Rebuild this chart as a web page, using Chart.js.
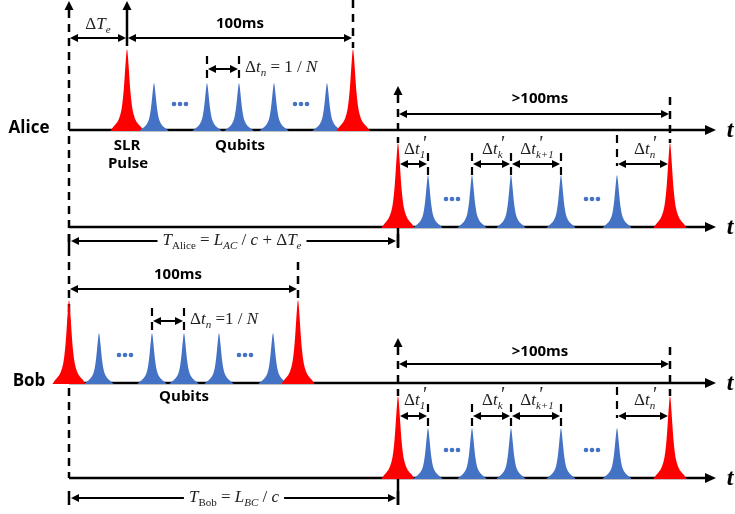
<!DOCTYPE html>
<html>
<head>
<meta charset="utf-8">
<script src="https://cdn.jsdelivr.net/npm/chart.js@4.4.0/dist/chart.umd.min.js"></script>
<style>
  html, body { margin: 0; padding: 0; background: #fff; }
  canvas { display: block; }
</style>
</head>
<body>
<canvas id="diagram" width="735" height="514"></canvas>
<script>
// timelines (baseline position on the vertical scale) and their names
const timelineNames = ["Alice", "", "Bob", ""];
const timelineY = [130, 227, 383, 478];

// pulse times along each timeline; first and last are SLR pulses, the rest qubits
const pulseKind = ["SLR", "qubit", "qubit", "qubit", "qubit", "qubit", "SLR"];
const aliceSentT = [127, 154, 207, 239, 274, 327, 353];
const aliceRecvT = [398, 428, 472, 511, 561, 617, 670];
const bobSentT = [69, 99, 152, 184, 219, 273, 298];
const bobRecvT = [398, 428, 472, 511, 561, 617, 670];
const slrHeight = [81, 84, 83, 82];
const qubitHeight = [47, 52, 50, 50];

// "..." markers between qubits
const dotsT = [[180, 301], [452, 592], [125, 245], [452, 592]];

const RED = "#ff0000";
const BLUE = "#4472c4";
const SERIF = '"Liberation Serif", "DejaVu Serif", serif';
const SANS = '"Open Sans", "Noto Sans", sans-serif';

// pulse outline (one flank), in units of half-width-at-half-max and of peak height
const FLANK = [[-5.2, 0], [-4.4, 0.05], [-3, 0.1], [-2, 0.2], [-1.5, 0.31], [-1, 0.5], [-0.5, 0.8], [-0.15, 0.98], [0, 1]];

function seg(ctx, x1, y1, x2, y2, w) {
  ctx.save();
  ctx.lineWidth = w || 2.5;
  ctx.strokeStyle = "#000";
  ctx.beginPath();
  ctx.moveTo(x1, y1);
  ctx.lineTo(x2, y2);
  ctx.stroke();
  ctx.restore();
}

function dashV(ctx, x, y1, y2, w) {
  ctx.save();
  ctx.lineWidth = w || 2.5;
  ctx.strokeStyle = "#000";
  ctx.setLineDash([8, 6]);
  ctx.beginPath();
  ctx.moveTo(x, y1);
  ctx.lineTo(x, y2);
  ctx.stroke();
  ctx.restore();
}

// filled arrow head, tip at (x, y)
function head(ctx, x, y, dir, len, hw) {
  len = len || 8;
  hw = hw || 4;
  ctx.save();
  ctx.fillStyle = "#000";
  ctx.beginPath();
  ctx.moveTo(x, y);
  if (dir === "r") { ctx.lineTo(x - len, y - hw); ctx.lineTo(x - len, y + hw); }
  if (dir === "l") { ctx.lineTo(x + len, y - hw); ctx.lineTo(x + len, y + hw); }
  if (dir === "u") { ctx.lineTo(x - hw, y + len); ctx.lineTo(x + hw, y + len); }
  ctx.closePath();
  ctx.fill();
  ctx.restore();
}

function dblArrow(ctx, x1, x2, y) {
  seg(ctx, x1 + 4, y, x2 - 4, y, 2);
  head(ctx, x1, y, "l", 8, 4);
  head(ctx, x2, y, "r", 8, 4);
}

function pulse(ctx, cx, base, top, g, color) {
  const h = base - top;
  const pts = FLANK.map(([u, v]) => [cx + u * g, base - v * h]);
  const all = pts.concat(pts.slice(0, -1).reverse().map(([px, py]) => [2 * cx - px, py]));
  ctx.beginPath();
  ctx.moveTo(all[0][0], all[0][1]);
  for (let i = 1; i < all.length - 1; i++) {
    const mx = (all[i][0] + all[i + 1][0]) / 2;
    const my = (all[i][1] + all[i + 1][1]) / 2;
    ctx.quadraticCurveTo(all[i][0], all[i][1], mx, my);
  }
  ctx.lineTo(all[all.length - 1][0], all[all.length - 1][1]);
  ctx.closePath();
  ctx.fillStyle = color;
  ctx.fill();
}

// math-like text: parts with italic / sub / sup / stacked scripts
function rich(ctx, parts, x, y, align, size, bg) {
  size = size || 17;
  let cx = 0, prev = 0;
  const out = [];
  for (const p of parts) {
    const fs = p.z ? p.z : p.s ? Math.round(size * 0.64) : size;
    const font = (p.i ? "italic " : "") + fs + "px " + SERIF;
    ctx.font = font;
    const w = ctx.measureText(p.t).width;
    const x0 = (p.back ? prev : cx) + (p.dx || 0);
    prev = x0;
    const dy = p.s === "sub" ? size * 0.3 : p.s === "sup" ? -size * 0.3 : 0;
    out.push({ t: p.t, font, x: x0, dy });
    cx = Math.max(cx, x0 + w);
  }
  const left = align === "center" ? x - cx / 2 : x;
  ctx.save();
  if (bg) {
    ctx.fillStyle = "#fff";
    ctx.fillRect(left - 5, y - size * 0.6, cx + 10, size * 1.3);
  }
  ctx.fillStyle = "#222";
  ctx.textBaseline = "middle";
  ctx.textAlign = "left";
  for (const o of out) {
    ctx.font = o.font;
    ctx.fillText(o.t, left + o.x, y + o.dy);
  }
  ctx.restore();
}

function bold(ctx, text, x, y, size, align) {
  ctx.save();
  ctx.font = "bold " + size + "px " + SANS;
  ctx.fillStyle = "#000";
  ctx.textAlign = align || "center";
  ctx.textBaseline = "middle";
  ctx.fillText(text, x, y);
  ctx.restore();
}

const dtPrime = (sub) => [
  { t: "Δ" }, { t: "t", i: 1 },
  { t: sub, i: 1, s: "sub" }, { t: "'", i: 1, s: "sup", back: 1, z: 20, dx: 2 }
];

const diagram = {
  id: "diagram",
  afterDraw(chart) {
    const ctx = chart.ctx;
    const X = (v) => chart.scales.x.getPixelForValue(v);
    const Y = (v) => chart.scales.y.getPixelForValue(v);

    // time axes
    timelineY.forEach((ty, i) => {
      seg(ctx, X(69), Y(ty), X(708), Y(ty), 2.5);
      head(ctx, X(716), Y(ty), "r", 11, 5);
      ctx.save();
      ctx.font = "bold italic 24px " + SERIF;
      ctx.fillStyle = "#000";
      ctx.textBaseline = "middle";
      ctx.textAlign = "center";
      ctx.fillText("t", X(730), Y(ty) + 1);
      ctx.restore();
      if (timelineNames[i]) bold(ctx, timelineNames[i], X(29), Y(ty - 2), 17);
    });

    // reference verticals
    dashV(ctx, X(69), Y(10), Y(478));
    head(ctx, X(69), Y(1), "u", 9, 4.5);
    seg(ctx, X(127), Y(9), X(127), Y(46), 2.5);
    head(ctx, X(127), Y(1), "u", 9, 4.5);
    dashV(ctx, X(353), Y(0), Y(48));
    dashV(ctx, X(298), Y(262), Y(300));
    [[86, 143, 227, 247, 670, 97], [338, 396, 478, 505, 670, 347]].forEach(([tip, top, base, low, xr, rTop]) => {
      head(ctx, X(398), Y(tip), "u", 9, 4.5);
      dashV(ctx, X(398), Y(tip + 9), Y(top));
      seg(ctx, X(398), Y(base), X(398), Y(low), 2.5);
      dashV(ctx, X(xr), Y(rTop), Y(top));
    });

    // pulses
    [aliceSentT, aliceRecvT, bobSentT, bobRecvT].forEach((times, i) => {
      const base = timelineY[i];
      times.forEach((t, k) => {
        const slr = pulseKind[k] === "SLR";
        const top = base - (slr ? slrHeight[i] : qubitHeight[i]);
        pulse(ctx, X(t), Y(base) + 1, Y(top), slr ? 3.2 : 2.8, slr ? RED : BLUE);
      });
      dotsT[i].forEach((d) => {
        const dy = Y(base - (i === 0 ? 26 : 28));
        ctx.fillStyle = BLUE;
        for (const o of [-6, 0, 6]) {
          ctx.beginPath();
          ctx.arc(X(d) + o, dy, 2.3, 0, Math.PI * 2);
          ctx.fill();
        }
      });
    });

    // Alice sent annotations
    dblArrow(ctx, X(70), X(126), Y(38));
    dblArrow(ctx, X(128), X(352), Y(38));
    rich(ctx, [{ t: "Δ" }, { t: "T", i: 1 }, { t: "e", i: 1, s: "sub" }], X(98), Y(25), "center");
    bold(ctx, "100ms", X(240), Y(24), 15);
    dashV(ctx, X(207), Y(56), Y(84), 2.2);
    dashV(ctx, X(239), Y(56), Y(84), 2.2);
    dblArrow(ctx, X(208), X(238), Y(69));
    rich(ctx, [{ t: "Δ" }, { t: "t", i: 1 }, { t: "n", i: 1, s: "sub" }, { t: " = 1 / " }, { t: "N", i: 1 }], X(245), Y(68), "left");
    bold(ctx, "SLR", X(127), Y(146), 15);
    bold(ctx, "Pulse", X(128), Y(164), 15);
    bold(ctx, "Qubits", X(240), Y(146), 15);

    // Bob sent annotations
    dblArrow(ctx, X(70), X(297), Y(289));
    bold(ctx, "100ms", X(178), Y(275), 15);
    dashV(ctx, X(152), Y(308), Y(335), 2.2);
    dashV(ctx, X(184), Y(308), Y(335), 2.2);
    dblArrow(ctx, X(153), X(183), Y(321));
    rich(ctx, [{ t: "Δ" }, { t: "t", i: 1 }, { t: "n", i: 1, s: "sub" }, { t: " =1 / " }, { t: "N", i: 1 }], X(190), Y(320), "left");
    bold(ctx, "Qubits", X(184), Y(397), 15);

    // received timelines annotations
    [[114, 99, 164, 150, 153, 177, 135], [364, 352, 416, 401, 404, 430, 387]].forEach(([arrY, lblY, dY, dLbl, tk1, tk2, tkN]) => {
      dblArrow(ctx, X(399), X(669), Y(arrY));
      bold(ctx, ">100ms", X(540), Y(lblY), 15);
      [428, 472, 511, 561].forEach((t) => dashV(ctx, X(t), Y(tk1), Y(tk2), 2.2));
      dashV(ctx, X(617), Y(tkN), Y(dY + 2), 2.2);
      dblArrow(ctx, X(400), X(427), Y(dY));
      dblArrow(ctx, X(473), X(510), Y(dY));
      dblArrow(ctx, X(512), X(560), Y(dY));
      dblArrow(ctx, X(618), X(668), Y(dY));
      rich(ctx, dtPrime("1"), X(415), Y(dLbl), "center");
      rich(ctx, dtPrime("k"), X(493), Y(dLbl), "center");
      rich(ctx, dtPrime("k+1"), X(537), Y(dLbl), "center");
      rich(ctx, dtPrime("n"), X(645), Y(dLbl), "center");
    });

    // propagation delays
    [[241, [{ t: "T", i: 1 }, { t: "Alice", s: "sub" }, { t: " = " }, { t: "L", i: 1 }, { t: "AC", i: 1, s: "sub" },
      { t: " / " }, { t: "c", i: 1 }, { t: " + Δ" }, { t: "T", i: 1 }, { t: "e", i: 1, s: "sub" }], 232],
     [498, [{ t: "T", i: 1 }, { t: "Bob", s: "sub" }, { t: " = " }, { t: "L", i: 1 }, { t: "BC", i: 1, s: "sub" },
      { t: " / " }, { t: "c", i: 1 }], 234]].forEach(([ay, parts, cx]) => {
      dblArrow(ctx, X(71), X(396), Y(ay));
      seg(ctx, X(69), Y(ay - 7), X(69), Y(ay + 7), 2.5);
      seg(ctx, X(398), Y(ay - 7), X(398), Y(ay + 7), 2.5);
      rich(ctx, parts, X(cx), Y(ay), "center", 17, true);
    });
  }
};

new Chart(document.getElementById("diagram"), {
  type: "scatter",
  data: { datasets: [{ data: [], pointRadius: 0 }] },
  options: {
    responsive: false,
    animation: false,
    layout: { padding: 0 },
    scales: {
      x: { type: "linear", min: 0, max: 735, display: false },
      y: { type: "linear", min: 0, max: 514, reverse: true, display: false }
    },
    plugins: { legend: { display: false }, tooltip: { enabled: false } }
  },
  plugins: [diagram]
});
</script>
</body>
</html>
